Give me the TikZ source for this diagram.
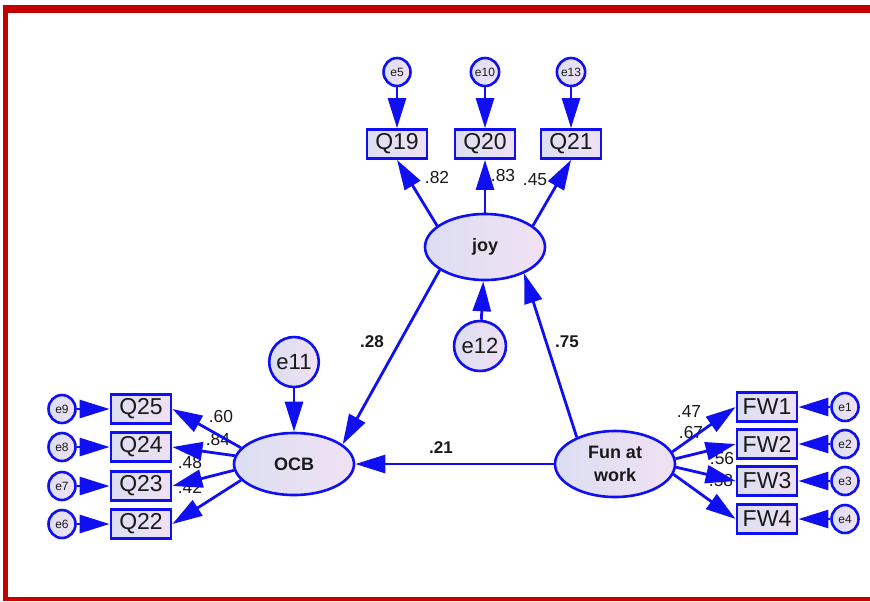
\documentclass[tikz,border=0pt]{standalone}
\usepackage{fontspec}
\setmainfont{Liberation Sans}
\usetikzlibrary{arrows.meta,shapes.geometric}

\definecolor{amosblue}{RGB}{15,15,242}
\definecolor{fillleft}{RGB}{220,222,242}
\definecolor{fillright}{RGB}{240,225,243}
\definecolor{framered}{RGB}{196,0,0}
\definecolor{labelgray}{RGB}{25,25,25}

\tikzset{
    observed/.style={draw=amosblue, line width=1.4pt, left color=fillleft, right color=fillright,
        minimum width=30pt, minimum height=14.5pt, inner sep=0pt, text=labelgray,
        font=\fontsize{11.5}{12}\selectfont},
    latent/.style={ellipse, draw=amosblue, line width=1.3pt, left color=fillleft, right color=fillright,
        minimum width=60pt, minimum height=32pt, inner sep=0pt, align=center, text=labelgray,
        font=\fontsize{9}{11.5}\selectfont\bfseries},
    errsmall/.style={ellipse, draw=amosblue, line width=1.3pt, left color=fillleft, right color=fillright,
        minimum width=13.5pt, minimum height=14pt, inner sep=0pt, text=labelgray,
        font=\fontsize{6}{6}\selectfont},
    errlarge/.style={ellipse, draw=amosblue, line width=1.3pt, left color=fillleft, right color=fillright,
        minimum width=22pt, minimum height=25pt, inner sep=0pt, text=labelgray,
        font=\fontsize{11}{12}\selectfont},
    regpath/.style={draw=amosblue, line width=1.4pt, -{Triangle[length=15pt, width=9pt]}},
    coef/.style={text=labelgray, font=\fontsize{8.7}{9}\selectfont},
    coefbold/.style={text=labelgray, font=\fontsize{8.5}{9}\selectfont\bfseries},
}

\begin{document}
\begin{tikzpicture}[x=0.5pt, y=-0.5pt]
        % Frame:
        \useasboundingbox (0, 0) rectangle (870, 601);
        \fill[framered] (3, 5) rectangle (870, 13);
        \fill[framered] (3, 5) rectangle (8, 601);
        \fill[framered] (3, 597) rectangle (870, 601);

        % Latent variables:
        \node[latent, minimum height=33pt] (joy) at (485, 247) {joy};
        \node[latent, minimum height=31pt] (OCB) at (294, 464) {OCB};
        \node[latent, minimum height=33pt] (fun) at (615, 464) {Fun at\\work};

        % Residuals of latent variables:
        \node[errlarge] (e12) at (480, 346) {e12};
        \node[errlarge] (e11) at (294, 362) {e11};

        % Indicators of joy:
        \foreach \q/\e/\x in {Q19/e5/397, Q20/e10/485, Q21/e13/571} {
            \node[observed] (\q) at (\x, 144) {\q};
            \node[errsmall] (\e) at (\x, 72) {\e};
        }

        % Indicators of OCB:
        \foreach \q/\e/\y in {Q25/e9/409, Q24/e8/447, Q23/e7/486, Q22/e6/524} {
            \node[observed] (\q) at (141, \y) {\q};
            \node[errsmall] (\e) at (62, \y) {\e};
        }

        % Indicators of fun at work:
        \foreach \q/\e/\y in {FW1/e1/407, FW2/e2/444, FW3/e3/481, FW4/e4/519} {
            \node[observed] (\q) at (767, \y) {\q};
            \node[errsmall] (\e) at (845, \y) {\e};
        }

        % Loadings:
        \node[coef] (l19) at (437, 178) {.82};
        \node[coef] (l20) at (503, 175) {.83};
        \node[coef] (l21) at (535, 180) {.45};
        \node[coef] (l25) at (221, 416) {.60};
        \node[coef] (l24) at (218, 439) {.84};
        \node[coef] (l23) at (190, 462) {.48};
        \node[coef] (l22) at (190, 487) {.42};
        \node[coef] (lfw1) at (689, 411) {.47};
        \node[coef] (lfw2) at (691, 432) {.67};
        \node[coef] (lfw3) at (722, 458) {.56};
        \node[coef] (lfw4) at (721, 480) {.58};

        % Structural weights:
        \node[coefbold] (wjoy) at (372, 342) {.28};
        \node[coefbold] (wfun) at (567, 342) {.75};
        \node[coefbold] (wocb) at (441, 448) {.21};

        % Structural paths:
        \draw[regpath] (e12) -- (joy);
        \draw[regpath] (e11) -- (OCB);
        \draw[regpath] (joy.207) -- (OCB.22);
        \draw[regpath] (fun.145) -- (joy.326);
        \draw[regpath] (fun) -- (OCB);

        % Measurement paths:
        \foreach \q/\e/\a in {Q19/e5/156, Q20/e10/90, Q21/e13/24} {
            \draw[regpath] (\e) -- (\q);
            \draw[regpath] (joy.\a) -- (\q.south);
        }
        \foreach \q/\e/\a in {Q25/e9/163, Q24/e8/172, Q23/e7/186, Q22/e6/197} {
            \draw[regpath] (\e) -- (\q);
            \draw[regpath] (OCB.\a) -- (\q.east);
        }
        \foreach \q/\e/\a in {FW1/e1/12, FW2/e2/5, FW3/e3/357, FW4/e4/350} {
            \draw[regpath] (\e) -- (\q);
            \draw[regpath] (fun.\a) -- (\q.west);
        }
    \end{tikzpicture}
\end{document}
